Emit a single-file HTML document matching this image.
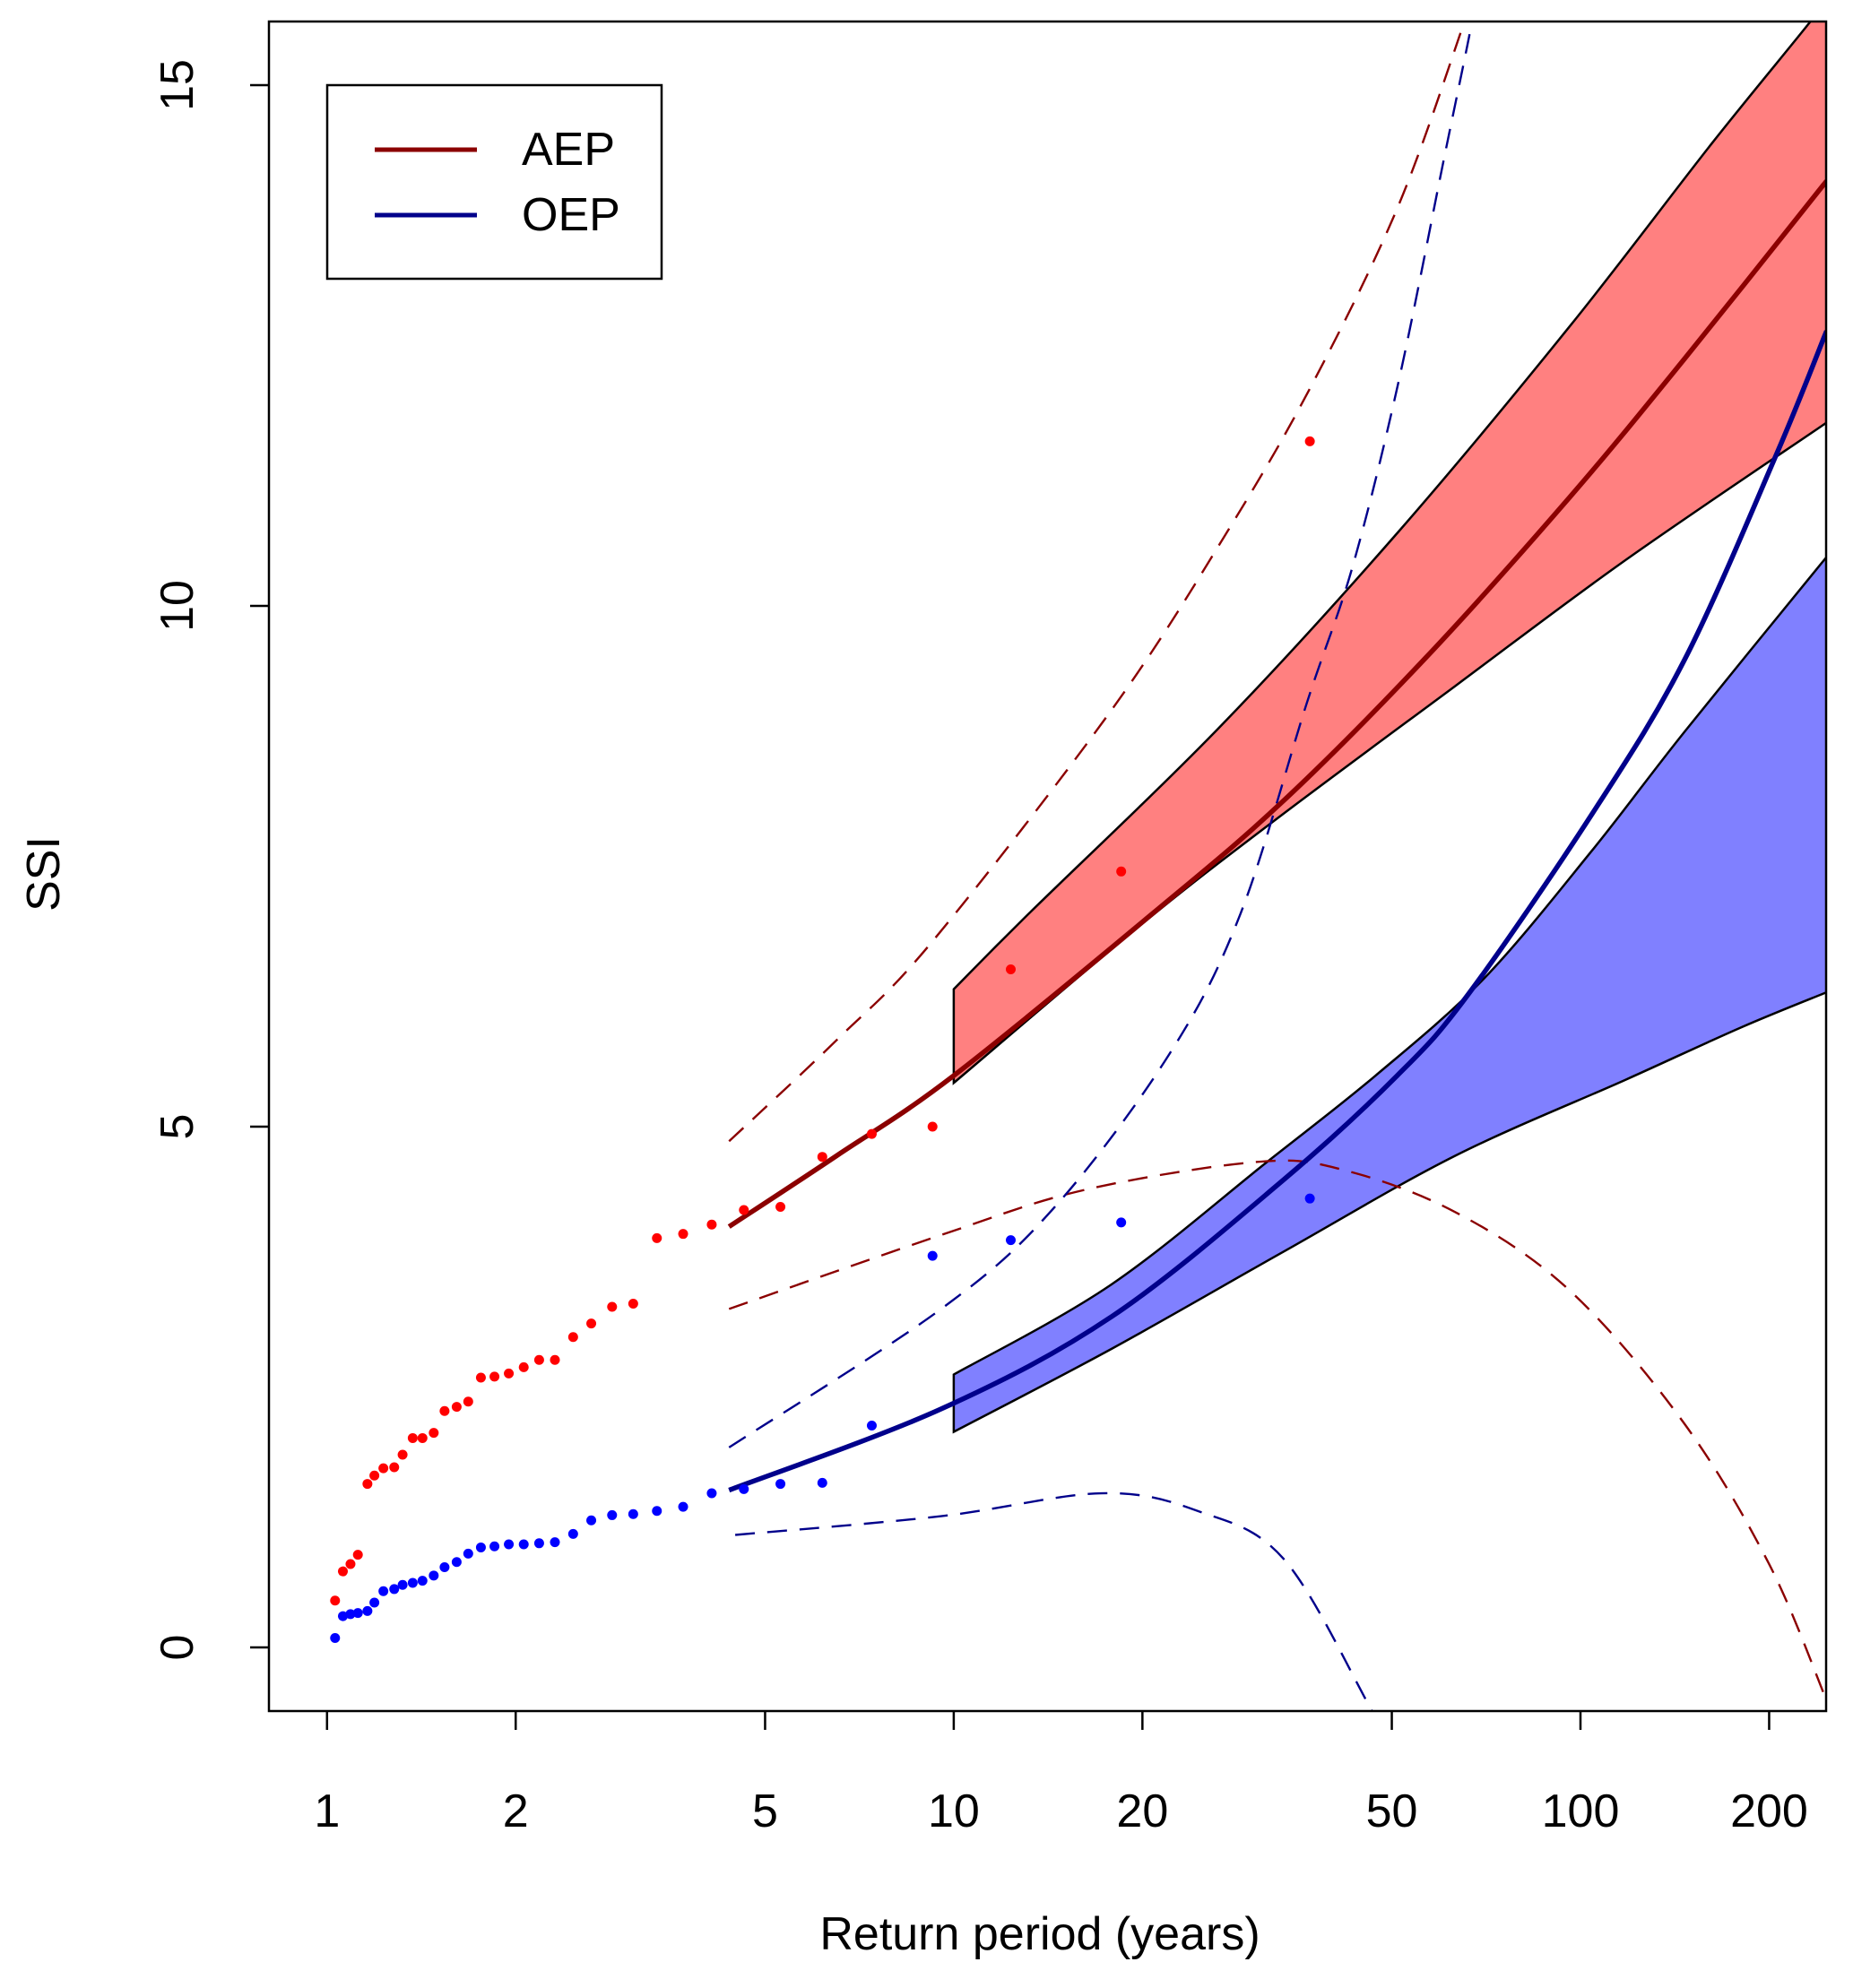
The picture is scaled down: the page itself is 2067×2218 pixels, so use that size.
<!DOCTYPE html>
<html><head><meta charset="utf-8"><style>
body{margin:0;background:#fff}
svg{display:block;font-family:"Liberation Sans",Arial,sans-serif}
</style></head><body>
<svg id="chart" width="2067" height="2218" viewBox="0 0 2067 2218">
<defs><clipPath id="plotclip"><rect x="300" y="24" width="1737" height="1885"/></clipPath></defs>
<g id="plot" clip-path="url(#plotclip)"></g>
<rect x="300" y="24" width="1737" height="1885" fill="none" stroke="#000" stroke-width="2.5"/>
<g id="axes"></g>
<g>
<rect x="365" y="95" width="373" height="216" fill="#fff" stroke="#000" stroke-width="2.5"/>
<line x1="418" y1="167" x2="532" y2="167" stroke="#8b0000" stroke-width="5"/>
<text x="582" y="184" font-size="52">AEP</text>
<line x1="418" y1="240" x2="532" y2="240" stroke="#00008b" stroke-width="5"/>
<text x="582" y="257" font-size="52">OEP</text>
</g>
<text x="1160" y="2175" font-size="52" text-anchor="middle">Return period (years)</text>
<text x="66" y="975" font-size="52" text-anchor="middle" transform="rotate(-90 66 975)">SSI</text>
</svg>
<script>
const returnPeriods=[37,18.5,12.33,9.25,7.4,6.17,5.29,4.625,4.11,3.7,3.36,3.08,2.85,2.64,2.47,2.31,2.18,2.06,1.95,1.85,1.76,1.68,1.61,1.54,1.48,1.42,1.37,1.32,1.28,1.23,1.19,1.16,1.12,1.09,1.06,1.03];
const aepPoints=[11.58,7.45,6.51,5.0,4.93,4.71,4.23,4.20,4.06,3.97,3.93,3.30,3.27,3.11,2.98,2.76,2.76,2.69,2.63,2.60,2.59,2.36,2.31,2.27,2.06,2.01,2.01,1.85,1.73,1.72,1.65,1.57,0.89,0.80,0.73,0.45];
const oepPoints=[4.31,4.08,3.91,3.76,2.13,1.58,1.57,1.52,1.48,1.35,1.31,1.28,1.27,1.22,1.09,1.01,1.00,0.99,0.99,0.97,0.96,0.90,0.82,0.77,0.69,0.64,0.62,0.60,0.56,0.54,0.43,0.35,0.33,0.32,0.30,0.09];
const aepFitT=[4.38,6.5,10,20.8,33.6,56.8,96,146,247];
const aepFit=[4.04,4.72,5.49,7.05,8.13,9.51,11.04,12.36,14.08];
const oepFitT=[4.38,9.55,17.9,33.6,51,66.2,104.3,146.5,205.6,247];
const oepFit=[1.51,2.29,3.18,4.49,5.49,6.27,8.0,9.48,11.46,12.64];
const aepBandUpperT=[10,13.2,26.7,51.2,96,162,232,260];
const aepBandUpper=[6.32,7.05,8.85,10.71,12.68,14.44,15.6,16.0];
const aepBandLowerT=[10,20,33,63.1,118,247];
const aepBandLower=[5.42,6.95,7.97,9.23,10.44,11.76];
const oepBandUpperT=[10,17.8,31.6,47.1,70.1,104.3,146.5,247];
const oepBandUpper=[2.62,3.48,4.66,5.49,6.42,7.65,8.79,10.47];
const oepBandLowerT=[10,17.9,33.6,63.1,118,180,247];
const oepBandLower=[2.07,2.87,3.80,4.72,5.45,5.95,6.29];
const aepCiUpperT=[4.38,6.5,9.25,17.9,27.3,37.4,51.2,65.2,72];
const aepCiUpper=[4.86,5.83,6.78,9.01,10.71,12.14,13.84,15.6,16.4];
const aepCiLowerT=[4.38,9.55,16.1,30.3,41.5,63.1,96,146,200,247];
const aepCiLower=[3.25,3.96,4.39,4.66,4.59,4.18,3.43,2.16,0.80,-0.51];
const oepCiUpperT=[4.38,9.55,14.5,22.1,28.7,36.6,43.3,51.2,60.5,67.1,72];
const oepCiUpper=[1.92,3.25,4.23,5.70,7.05,9.07,10.38,12.14,14.28,15.6,16.6];
const oepCiLowerT=[4.48,9.55,17.2,24.5,33.6,46.0,55];
const oepCiLower=[1.08,1.26,1.48,1.31,0.85,-0.56,-1.5];
const xTicks=[1,2,5,10,20,50,100,200];
const yTicks=[0,5,10,15];

const X=t=>364.8+699.1*Math.log10(t);
const Y=v=>1838-116.2*v;
const NS="http://www.w3.org/2000/svg";
const plot=document.getElementById('plot'), axes=document.getElementById('axes');
function mk(tag,attrs,parent){const e=document.createElementNS(NS,tag);for(const k in attrs)e.setAttribute(k,attrs[k]);parent.appendChild(e);return e;}
function smooth(ts,vs){const p=ts.map((t,i)=>[X(t),Y(vs[i])]);let d=`M${p[0][0]},${p[0][1]}`;
 for(let i=0;i<p.length-1;i++){const p0=p[i-1]||p[i],p1=p[i],p2=p[i+1],p3=p[i+2]||p2;
  const c1=[p1[0]+(p2[0]-p0[0])/6,p1[1]+(p2[1]-p0[1])/6],c2=[p2[0]-(p3[0]-p1[0])/6,p2[1]-(p3[1]-p1[1])/6];
  d+=` C${c1[0]},${c1[1]} ${c2[0]},${c2[1]} ${p2[0]},${p2[1]}`;}return d;}
function band(uT,up,lT,lo,fill,name){const dU=smooth(uT,up);const rT=[...lT].reverse(),rL=[...lo].reverse();
 const dL=smooth(rT,rL).replace(/^M/,'L');
 const e=mk('path',{d:dU+' '+dL+' Z',fill:fill,stroke:'#000','stroke-width':2.5},plot);
 
 }
band(aepBandUpperT,aepBandUpper,aepBandLowerT,aepBandLower,'#ff8080','aep-confidence-band');
band(oepBandUpperT,oepBandUpper,oepBandLowerT,oepBandLower,'#8080ff','oep-confidence-band');
function line(ts,vs,col,w,dash,name){const e=mk('path',{d:smooth(ts,vs),fill:'none',stroke:col,'stroke-width':w},plot);
 if(dash)e.setAttribute('stroke-dasharray',dash);
 
 }
line(aepCiUpperT,aepCiUpper,'#8b0000',2.4,'22 14','aep-ci-upper');
line(aepCiLowerT,aepCiLower,'#8b0000',2.4,'22 14','aep-ci-lower');
line(oepCiUpperT,oepCiUpper,'#00008b',2.4,'22 14','oep-ci-upper');
line(oepCiLowerT,oepCiLower,'#00008b',2.4,'22 14','oep-ci-lower');
line(aepFitT,aepFit,'#8b0000',5.5,null,'aep-fit-line');
line(oepFitT,oepFit,'#00008b',5.5,null,'oep-fit-line');
returnPeriods.forEach((t,i)=>{
 const a=mk('circle',{cx:X(t),cy:Y(aepPoints[i]),r:5.5,fill:'#ff0000'},plot);
 
 
 const b=mk('circle',{cx:X(t),cy:Y(oepPoints[i]),r:5.5,fill:'#0000ff'},plot);
 
 
});
xTicks.forEach(t=>{const x=X(t);
 const l=mk('line',{x1:x,y1:1909,x2:x,y2:1930,stroke:'#000','stroke-width':2.5},axes);
 
 
 const tx=mk('text',{x:x,y:2038,'font-size':52,'text-anchor':'middle'},axes);tx.textContent=t;
 
 
});
yTicks.forEach(v=>{const y=Y(v);
 const l=mk('line',{x1:300,y1:y,x2:279,y2:y,stroke:'#000','stroke-width':2.5},axes);
 
 
 const tx=mk('text',{x:215,y:y,'font-size':52,'text-anchor':'middle',transform:`rotate(-90 215 ${y})`},axes);tx.textContent=v;
 
 
});
</script>
</body></html>
